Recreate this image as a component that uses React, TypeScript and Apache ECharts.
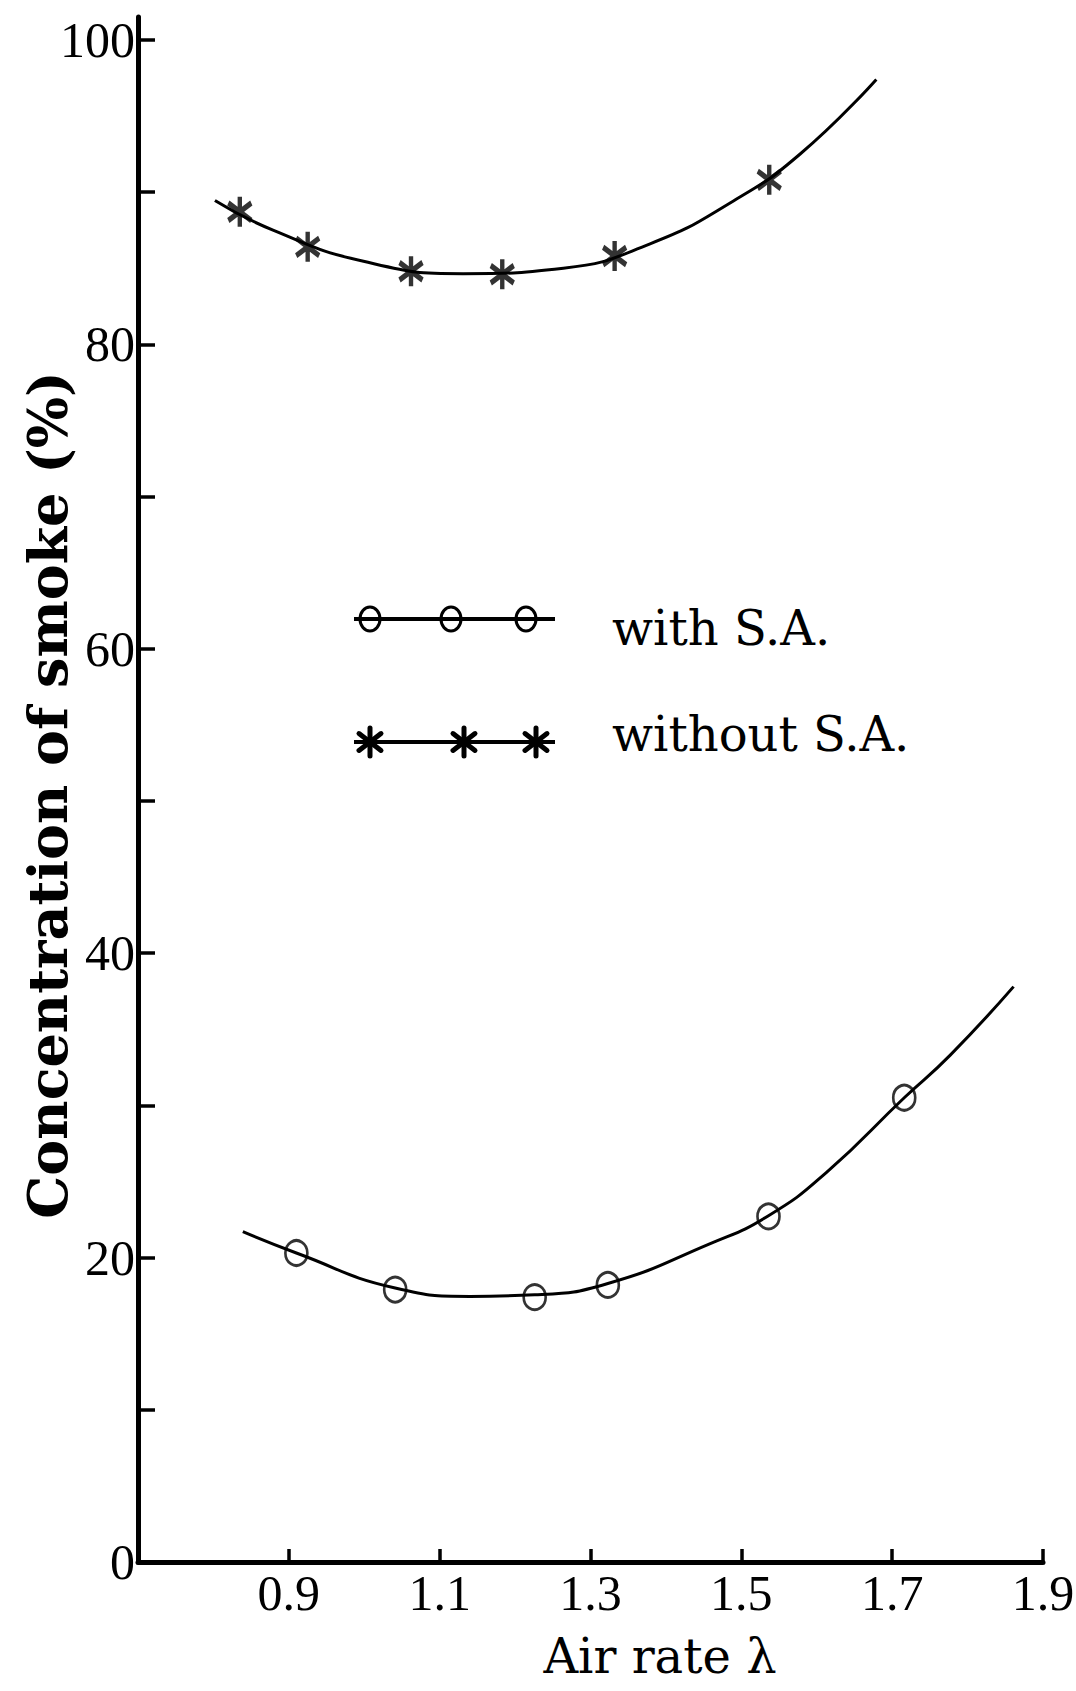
import React, { useEffect, useRef } from "react";
import * as echarts from "echarts";

// ---- data ----
const xTickValues = [0.9, 1.1, 1.3, 1.5, 1.7, 1.9];
const yTickValues = [0, 10, 20, 30, 40, 50, 60, 70, 80, 90, 100];
const yLabelValues = [0, 20, 40, 60, 80, 100];

// measured points: with secondary air (open circles)
const withSALambda = [0.910, 1.041, 1.226, 1.323, 1.536, 1.716];
const withSAConc = [20.3, 17.9, 17.4, 18.2, 22.7, 30.5];

// measured points: without secondary air (stars)
const withoutSALambda = [0.835, 0.925, 1.062, 1.183, 1.332, 1.537];
const withoutSAConc = [88.7, 86.4, 84.8, 84.6, 85.8, 90.8];

// hand-drawn fitted curves
const withFitLambda = [0.839, 0.910, 1.041, 1.140, 1.226, 1.323, 1.458, 1.536, 1.613, 1.716, 1.777, 1.861];
const withFitConc = [21.7, 20.3, 18.0, 17.45, 17.55, 18.3, 20.9, 22.75, 25.6, 30.5, 33.3, 37.8];

const withoutFitLambda = [0.802, 0.879, 0.999, 1.131, 1.264, 1.379, 1.489, 1.578, 1.679];
const withoutFitConc = [89.45, 87.5, 85.45, 84.64, 85.0, 86.6, 89.4, 92.5, 97.4];

const legendLabels = ["with S.A.", "without S.A."];
const xAxisTitle = "Air rate λ";
const yAxisTitle = "Concentration of smoke (%)";

const zip = (xs: number[], ys: number[]) => xs.map((x, i) => [x, ys[i]]);

const STAR = "path://M5,0L5,12M0,2.5L10,9.5M10,2.5L0,9.5";

function starLines(cx: number, cy: number, hw: number, hh: number) {
  const st = { stroke: "#000", lineWidth: 5, lineCap: "round" };
  const dy = hh * 0.6;
  return [
    { type: "line", shape: { x1: cx, y1: cy - hh, x2: cx, y2: cy + hh }, style: st },
    { type: "line", shape: { x1: cx - hw, y1: cy - dy, x2: cx + hw, y2: cy + dy }, style: st },
    { type: "line", shape: { x1: cx + hw, y1: cy - dy, x2: cx - hw, y2: cy + dy }, style: st },
  ];
}

export default function App() {
  const ref = useRef<HTMLDivElement>(null);
  useEffect(() => {
    if (!ref.current) return;
    const chart = echarts.init(ref.current, null, { renderer: "svg" });
    const legendY1 = 619;
    const legendY2 = 742;
    const option: any = {
      animation: false,
      backgroundColor: "#fff",
      grid: {
        left: 138,
        right: 33,
        top: 17,
        bottom: 129,
        containLabel: false,
        outerBoundsMode: "none",
      },
      xAxis: {
        type: "value",
        min: 0.7,
        max: 1.9,
        axisLine: { lineStyle: { color: "#000", width: 5 } },
        axisTick: {
          inside: true,
          length: 13,
          lineStyle: { color: "#000", width: 3.5 },
          customValues: xTickValues,
        },
        axisLabel: {
          customValues: xTickValues,
          formatter: (v: number) => v.toFixed(1),
          fontFamily: "Liberation Serif",
          fontSize: 50,
          color: "#000",
          margin: 6,
        },
        splitLine: { show: false },
      },
      yAxis: {
        type: "value",
        min: 0,
        max: 101.5,
        axisLine: { lineStyle: { color: "#000", width: 5 } },
        axisTick: {
          inside: true,
          length: 17,
          lineStyle: { color: "#000", width: 3.5 },
          customValues: yTickValues,
        },
        axisLabel: {
          customValues: yLabelValues,
          fontFamily: "Liberation Serif",
          fontSize: 50,
          color: "#000",
          margin: 3,
        },
        splitLine: { show: false },
      },
      series: [
        {
          name: "with S.A. curve",
          type: "line",
          data: zip(withFitLambda, withFitConc),
          smooth: 0.5,
          showSymbol: false,
          lineStyle: { color: "#000", width: 3 },
          silent: true,
        },
        {
          name: "without S.A. curve",
          type: "line",
          data: zip(withoutFitLambda, withoutFitConc),
          smooth: 0.5,
          showSymbol: false,
          lineStyle: { color: "#000", width: 3 },
          silent: true,
        },
        {
          name: legendLabels[0],
          type: "scatter",
          data: zip(withSALambda, withSAConc),
          symbol: "circle",
          symbolSize: [22, 25],
          itemStyle: { color: "rgba(0,0,0,0)", borderColor: "#000", borderWidth: 2.8 },
        },
        {
          name: legendLabels[1],
          type: "scatter",
          data: zip(withoutSALambda, withoutSAConc),
          symbol: STAR,
          symbolSize: [23, 30],
          itemStyle: { color: "rgba(0,0,0,0)", borderColor: "#000", borderWidth: 5 },
        },
      ],
      graphic: [
        {
          type: "text",
          x: 48,
          y: 795,
          rotation: Math.PI / 2,
          style: {
            text: yAxisTitle,
            fontFamily: "DejaVu Serif",
            fontWeight: "bold",
            fontSize: 54,
            fill: "#000",
            align: "center",
            verticalAlign: "middle",
          },
        },
        {
          type: "text",
          x: 660,
          y: 1656,
          style: {
            text: xAxisTitle,
            fontFamily: "DejaVu Serif",
            fontSize: 48,
            fill: "#000",
            align: "center",
            verticalAlign: "middle",
          },
        },
        {
          type: "group",
          children: [
            { type: "line", shape: { x1: 354, y1: legendY1, x2: 555, y2: legendY1 }, style: { stroke: "#000", lineWidth: 4 } },
            ...[370, 451, 526].map((cx) => ({
              type: "ellipse",
              shape: { cx, cy: legendY1, rx: 10, ry: 12 },
              style: { fill: "none", stroke: "#000", lineWidth: 3 },
            })),
            { type: "line", shape: { x1: 354, y1: legendY2, x2: 555, y2: legendY2 }, style: { stroke: "#000", lineWidth: 4 } },
            ...starLines(370, legendY2, 11, 14),
            ...starLines(464, legendY2, 11, 14),
            ...starLines(536, legendY2, 11, 14),
            {
              type: "text",
              x: 612,
              y: 628,
              style: {
                text: legendLabels[0],
                fontFamily: "DejaVu Serif",
                fontSize: 48,
                fill: "#000",
                verticalAlign: "middle",
              },
            },
            {
              type: "text",
              x: 612,
              y: 734,
              style: {
                text: legendLabels[1],
                fontFamily: "DejaVu Serif",
                fontSize: 48,
                fill: "#000",
                verticalAlign: "middle",
              },
            },
          ],
        },
      ],
    };
    chart.setOption(option);
    return () => chart.dispose();
  }, []);
  return (
    <div
      ref={ref}
      style={{ position: "absolute", left: 0, top: 0, width: 1076, height: 1691, background: "#fff" }}
    />
  );
}
